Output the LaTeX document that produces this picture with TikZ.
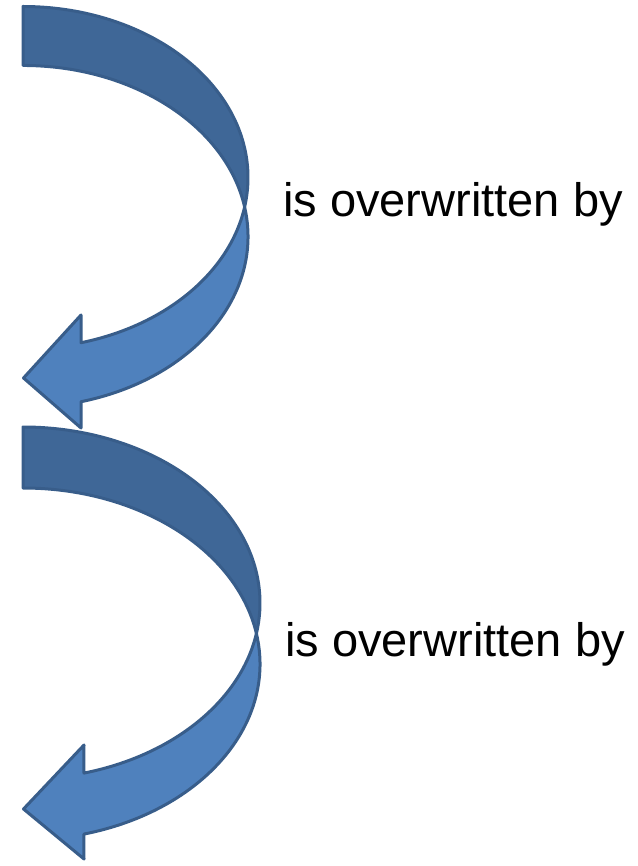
\documentclass[tikz,border=0pt]{standalone}
\usepackage{fontspec}
\setmainfont{Liberation Sans}
\definecolor{backfill}{HTML}{3F6797}
\definecolor{frontfill}{HTML}{4F81BD}
\definecolor{edgecol}{HTML}{385D8A}
\begin{document}
\begin{tikzpicture}[x=1pt,y=1pt,
  backpart/.style={fill=backfill,draw=edgecol,line width=3pt,line join=round},
  frontpart/.style={fill=frontfill,draw=edgecol,line width=3pt,line join=round},
  lbl/.style={anchor=base west,inner sep=0pt,font=\fontsize{47}{56}\selectfont}]
\useasboundingbox (0,0) rectangle (637,-866);
% ---- top arrow ----
\path[backpart] (23,-6.5)
  arc[start angle=90,end angle=-9.93,x radius=225pt,y radius=171pt]
  arc[start angle=9.93,end angle=90,x radius=225pt,y radius=171pt] -- cycle;
\path[frontpart] ([shift={(23,-236.5)}]9.93:225pt and 171pt)
  arc[start angle=9.93,end angle=-75.06,x radius=225pt,y radius=171pt]
  -- (81,-428) -- (23.5,-378) -- (81,-315)
  -- ([shift={(23,-177.5)}]-75.06:225pt and 171pt)
  arc[start angle=-75.06,end angle=-9.93,x radius=225pt,y radius=171pt] -- cycle;
% ---- bottom arrow ----
\path[backpart] (23,-427)
  arc[start angle=90,end angle=-9.98,x radius=237pt,y radius=176pt]
  arc[start angle=9.98,end angle=90,x radius=237pt,y radius=176pt] -- cycle;
\path[frontpart] ([shift={(23,-664)}]9.98:237pt and 176pt)
  arc[start angle=9.98,end angle=-75.1,x radius=237pt,y radius=176pt]
  -- (84,-859) -- (23.5,-809) -- (84,-745)
  -- ([shift={(23,-603)}]-75.1:237pt and 176pt)
  arc[start angle=-75.1,end angle=-9.98,x radius=237pt,y radius=176pt] -- cycle;
% ---- labels ----
\node[lbl] (t1) at (283,-217) {is overwritten by};
\node[lbl] (t2) at (285,-656) {is overwritten by};
\end{tikzpicture}
\end{document}
